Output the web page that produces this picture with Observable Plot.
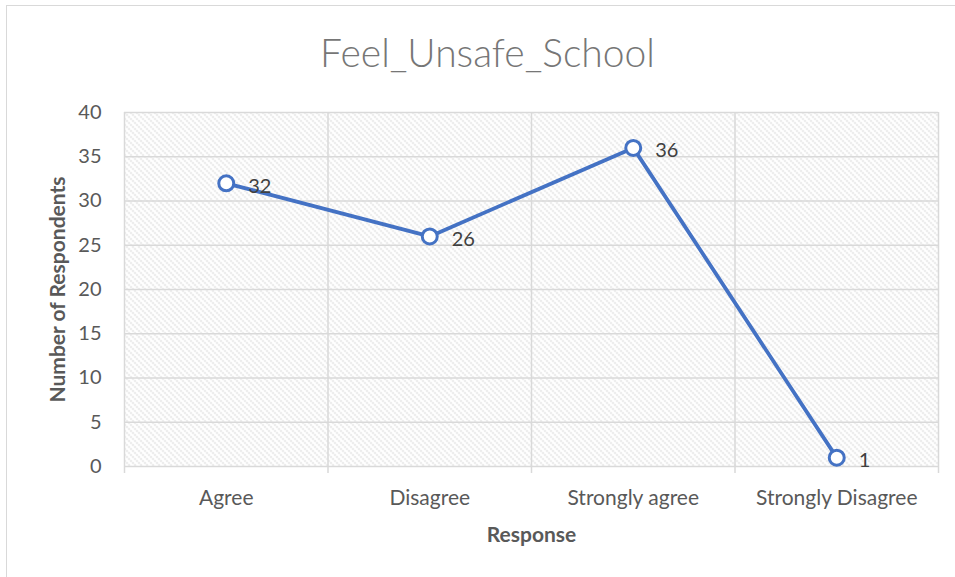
<!DOCTYPE html>
<html>
<head>
<meta charset="utf-8">
<script src="https://cdn.jsdelivr.net/npm/d3@7"></script>
<script src="https://cdn.jsdelivr.net/npm/@observablehq/plot@0.6"></script>
<style>
  html, body { margin: 0; padding: 0; background: #fff; }
  #wrap { position: relative; width: 955px; height: 577px; overflow: hidden; }
  #border { position: absolute; left: 6px; top: 5px; width: 960px; height: 600px;
            border-top: 1.5px solid #d9d9d9; border-left: 1.5px solid #d9d9d9; box-sizing: border-box; }
  #chart { position: absolute; left: 0; top: 0; }
</style>
</head>
<body>
<div id="wrap"><div id="border"></div><div id="chart"></div></div>
<script>
const title = "Feel_Unsafe_School";
const categories = ["Agree", "Disagree", "Strongly agree", "Strongly Disagree"];
const respondents = [32, 26, 36, 1];
const yTicks = [0, 5, 10, 15, 20, 25, 30, 35, 40];
const xLabel = "Response";
const yLabel = "Number of Respondents";

const data = categories.map((c, i) => ({i, category: c, value: respondents[i]}));
const edges = d3.range(categories.length + 1).map(i => i - 0.5);
const font = "Lato, 'Open Sans', sans-serif";
const blue = "#4472C4";

function defs() {
  const d = d3.create("svg:defs");
  const p = d.append("pattern").attr("id", "hatch").attr("patternUnits", "userSpaceOnUse")
    .attr("width", 6).attr("height", 6);
  p.append("rect").attr("width", 6).attr("height", 6).attr("fill", "#ffffff");
  p.append("path").attr("d", "M-1,5 L1,7 M0,0 L6,6 M5,-1 L7,1")
    .attr("stroke", "#d2d2d2").attr("stroke-width", 1.4).attr("stroke-dasharray", "1.5,1.3");
  return d.node();
}

const chart = Plot.plot({
  width: 955,
  height: 577,
  marginLeft: 124,
  marginRight: 17,
  marginTop: 112,
  marginBottom: 111,
  style: {fontFamily: font, background: "transparent", color: "#595959"},
  x: {type: "linear", domain: [-0.5, categories.length - 0.5]},
  y: {domain: [0, 40]},
  marks: [
    defs,
    Plot.frame({fill: "url(#hatch)", stroke: null}),
    Plot.gridY(yTicks, {stroke: "#d9d9d9", strokeOpacity: 1, strokeWidth: 1.5}),
    Plot.axisX(edges, {tickSize: 7, tickFormat: () => "", stroke: "#d9d9d9", strokeWidth: 1.5, label: null}),
    Plot.ruleX(edges, {y1: 0, y2: 40, stroke: "#d9d9d9", strokeWidth: 1.5}),
    Plot.axisX(d3.range(categories.length), {tickSize: 0, tickPadding: 24, tickFormat: i => categories[i], fontSize: 21, fill: "#595959", label: null}),
    Plot.axisY(yTicks, {tickSize: 0, tickPadding: 23, fontSize: 20, fill: "#595959", label: null}),
    Plot.line(data, {x: "i", y: "value", stroke: blue, strokeWidth: 3.8}),
    Plot.dot(data, {x: "i", y: "value", r: 7.5, fill: "white", stroke: blue, strokeWidth: 3}),
    Plot.text(data, {x: "i", y: "value", text: d => String(d.value), dx: 22, dy: 3, textAnchor: "start", fontSize: 20, fill: "#404040"}),
    Plot.text([title], {frameAnchor: "top", lineAnchor: "middle", dx: -44, dy: -58, fontSize: 39, fontWeight: 300, fill: "#767676"}),
    Plot.text([xLabel], {frameAnchor: "bottom", lineAnchor: "middle", dy: 69, fontSize: 21, fontWeight: "bold", fill: "#595959"}),
    Plot.text([yLabel], {frameAnchor: "left", textAnchor: "middle", lineAnchor: "middle", dx: -66, rotate: -90, fontSize: 21, fontWeight: "bold", fill: "#595959"})
  ]
});
document.getElementById("chart").appendChild(chart);
</script>
</body>
</html>
